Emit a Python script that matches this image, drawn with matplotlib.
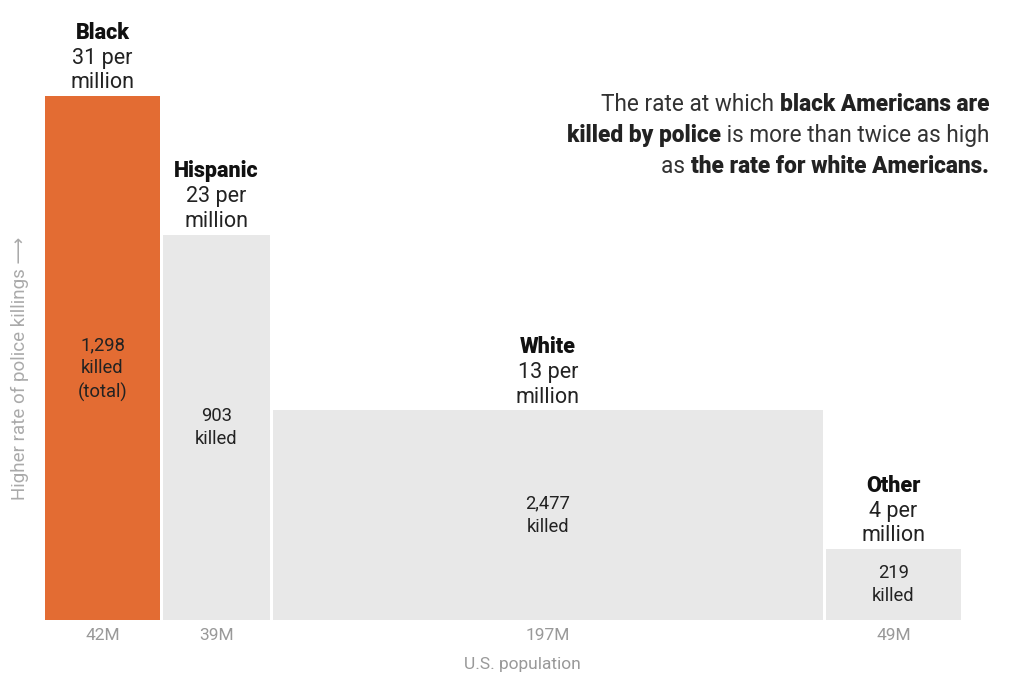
import numpy as np
import matplotlib
matplotlib.use("Agg")
from matplotlib import pyplot as plt

# data
groups = ["Black", "Hispanic", "White", "Other"]
population = [42, 39, 197, 49]          # millions
rate = [31.0, 22.8, 12.4, 4.2]          # killings per million (bar height)
rate_labels = ["31", "23", "13", "4"]
killed_labels = ["1,298\nkilled\n(total)", "903\nkilled", "2,477\nkilled", "219\nkilled"]
pop_labels = ["42M", "39M", "197M", "49M"]
bar_colors = ["#E36C33", "#E8E8E8", "#E8E8E8", "#E8E8E8"]

plt.rcParams['font.family'] = ['Roboto', 'DejaVu Sans']

W, H = 1024, 695
fig = plt.figure(figsize=(W / 100, H / 100), dpi=100)

total = sum(population)
px_per_m = 2.81
ax = fig.add_axes([45 / W, (H - 620) / H, total * px_per_m / W, (620 - 96) / H])
ax.set_xlim(0, total)
ax.set_ylim(0, max(rate))
ax.axis("off")

gap = 1.05
lefts = np.concatenate([[0], np.cumsum(population)[:-1]])
ax.bar(lefts, rate, width=np.array(population) - gap, align="edge",
       color=bar_colors, linewidth=0, clip_on=False)

for left, pop, r, name, rl, kl, pl in zip(lefts, population, rate, groups,
                                          rate_labels, killed_labels, pop_labels):
    cx = left + (pop - gap) / 2
    # labels above the bar
    ax.annotate("million", (cx, r), xytext=(0, 5.5), textcoords="offset points",
                ha="center", va="baseline", fontsize=15.5, color="#222222")
    ax.annotate(rl + " per", (cx, r), xytext=(0, 23.3), textcoords="offset points",
                ha="center", va="baseline", fontsize=15.5, color="#222222")
    ax.annotate(name, (cx, r), xytext=(0, 41.2), textcoords="offset points",
                ha="center", va="baseline", fontsize=15.5, fontweight="heavy",
                color="#111111")
    # counts inside the bar (first two lines centred, extra line hangs below)
    extra = kl.count("\n") - 1
    ax.annotate(kl, (cx, r / 2), xytext=(0, -8 * extra), textcoords="offset points",
                ha="center", va="center", fontsize=13.2, color="#222222",
                linespacing=1.35)
    # population below
    fig.text(ax.transData.transform((cx, 0))[0] / W, (H - 635) / H, pl,
             ha="center", va="center", fontsize=12.5, color="#999999")

fig.text(522 / W, (H - 664) / H, "U.S. population", ha="center", va="center",
         fontsize=12.5, color="#999999")

fig.text(20 / W, (H - 368) / H, "Higher rate of police killings \u27f6",
         rotation=90, ha="center", va="center", fontsize=13.5, color="#aaaaaa")

# annotation with mixed weights, right aligned
note = [
    [("The rate at which ", "normal"), ("black Americans are", "heavy")],
    [("killed by police", "heavy"), (" is more than twice as high", "normal")],
    [("as ", "normal"), ("the rate for white Americans.", "heavy")],
]
note_size = 16.3
right = 989
renderer = fig.canvas.get_renderer()
for i, line in enumerate(note):
    y = (H - (111 + 31 * i)) / H
    x = right
    for txt, wt in reversed(line):
        t = fig.text(x / W, y, txt, ha="right", va="baseline", fontsize=note_size,
                     fontweight=wt, color="#222222" if wt == "heavy" else "#333333")
        x -= t.get_window_extent(renderer).width

fig.savefig("out.png", dpi=100)
